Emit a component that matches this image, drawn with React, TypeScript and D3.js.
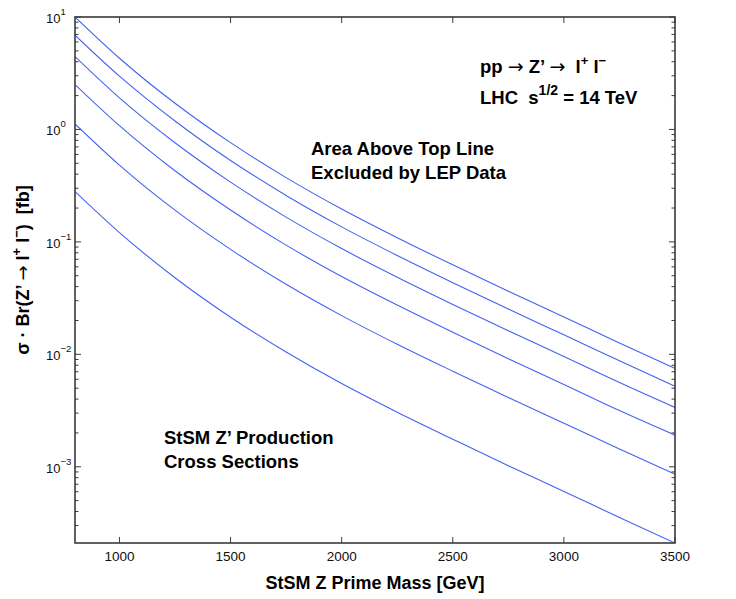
import React from "react";
import * as d3 from "d3";

const masses = [800, 1000, 1250, 1500, 1750, 2000, 2250, 2500, 2750, 3000, 3250, 3500];

// sigma * Br(Z' -> l+ l-) [fb], top line to bottom line
const curve1 = [10.0, 4.3, 1.71, 0.763, 0.373, 0.196, 0.109, 0.0625, 0.0364, 0.0215, 0.0126, 0.0075];
const curve2 = [6.9, 2.98, 1.19, 0.53, 0.259, 0.136, 0.0757, 0.0434, 0.0253, 0.0149, 0.00875, 0.0052];
const curve3 = [4.45, 1.91, 0.761, 0.34, 0.166, 0.0872, 0.0485, 0.0278, 0.0162, 0.00957, 0.00561, 0.00337];
const curve4 = [2.51, 1.08, 0.429, 0.192, 0.0936, 0.0492, 0.0274, 0.0157, 0.00914, 0.0054, 0.00316, 0.00191];
const curve5 = [1.12, 0.482, 0.1915, 0.0858, 0.042, 0.0221, 0.0123, 0.00708, 0.00413, 0.00244, 0.00144, 0.00086];
const curve6 = [0.28, 0.121, 0.048, 0.0214, 0.0105, 0.0055, 0.00306, 0.00176, 0.00102, 0.000604, 0.000354, 0.00021];

const curves = [curve1, curve2, curve3, curve4, curve5, curve6];

const xTicks = [1000, 1500, 2000, 2500, 3000, 3500];
const yDecades = [1, 0, -1, -2, -3]; // exponents of the labelled decades

const W = 736;
const H = 599;
const margin = { top: 17, right: 61, bottom: 56, left: 75 };

const font = "'Liberation Sans', Arial, Helvetica, sans-serif";
const arrowFont = "'DejaVu Sans', sans-serif";
const lineColor = "#4262f2";
const axisColor = "#3a3a3a";

// arrow glyph drawn in a wider, lighter face like the original symbol font
const Arrow = ({ size = 19 }: { size?: number }) => (
  <tspan fontFamily={arrowFont} fontWeight="normal" fontSize={size}>
    {"\u2192"}
  </tspan>
);

export default function App() {
  const innerW = W - margin.left - margin.right;
  const innerH = H - margin.top - margin.bottom;

  const x = d3.scaleLinear().domain([800, 3500]).range([0, innerW]);
  const y = d3.scaleLog().domain([2.1e-4, 10]).range([innerH, 0]);

  const line = d3
    .line<number>()
    .x((_, i) => x(masses[i]))
    .y((d) => y(d))
    .curve(d3.curveMonotoneX);

  // minor log ticks 2..9 inside the domain
  const [yMin, yMax] = y.domain();
  const minorTicks: number[] = [];
  for (let e = -4; e <= 1; e++) {
    for (let k = 1; k <= 9; k++) {
      const v = k * Math.pow(10, e);
      if (v >= yMin && v <= yMax) minorTicks.push(v);
    }
  }

  return (
    <svg
      width={W}
      height={H}
      style={{ position: "absolute", left: 0, top: 0, background: "#fff" }}
      fontFamily={font}
    >
      <defs>
        <clipPath id="plot-clip">
          <rect x={0} y={0} width={innerW} height={innerH} />
        </clipPath>
      </defs>
      <g transform={`translate(${margin.left},${margin.top})`}>
        {/* curves */}
        <g clipPath="url(#plot-clip)">
          {curves.map((c, i) => (
            <path key={i} d={line(c) || ""} fill="none" stroke={lineColor} strokeWidth={1.1} />
          ))}
        </g>

        {/* ticks, inward on all sides */}
        {xTicks.map((t) => (
          <g key={t}>
            <line x1={x(t)} x2={x(t)} y1={innerH} y2={innerH - 6} stroke={axisColor} strokeWidth={1} />
            <line x1={x(t)} x2={x(t)} y1={0} y2={6} stroke={axisColor} strokeWidth={1} />
            <text x={x(t)} y={innerH + 18} textAnchor="middle" fontSize={13.5} fill="#111">
              {t}
            </text>
          </g>
        ))}
        {minorTicks.map((v, i) => {
          const major = Math.abs(Math.log10(v) - Math.round(Math.log10(v))) < 1e-9;
          const len = major ? 6 : 3.5;
          return (
            <g key={i}>
              <line x1={0} x2={len} y1={y(v)} y2={y(v)} stroke={axisColor} strokeWidth={1} />
              <line x1={innerW} x2={innerW - len} y1={y(v)} y2={y(v)} stroke={axisColor} strokeWidth={1} />
            </g>
          );
        })}
        {yDecades.map((e) => (
          <text key={e} x={46 - margin.left} y={y(Math.pow(10, e)) + 6} fontSize={13} fill="#111">
            10
            <tspan dy={-8} fontSize={9.5}>
              {e < 0 ? `\u2212${-e}` : `${e}`}
            </tspan>
          </text>
        ))}

        {/* box */}
        <rect x={0} y={0} width={innerW} height={innerH} fill="none" stroke={axisColor} strokeWidth={1.6} />
      </g>

      {/* annotations */}
      <g fontWeight="bold" fontSize={18.5} fill="#000">
        <text x={480} y={73} xmlSpace="preserve">
          {"pp "}
          <Arrow />
          {" Z\u2019 "}
          <Arrow />
          {"  l"}
          <tspan dy={-8} fontSize={13}>+</tspan>
          <tspan dy={8}>{" l"}</tspan>
          <tspan dy={-8} fontSize={13}>{"\u2212"}</tspan>
        </text>
        <text x={480} y={104} xmlSpace="preserve">
          {"LHC  s"}
          <tspan dy={-9} fontSize={14}>1/2</tspan>
          <tspan dy={9}>{" = 14 TeV"}</tspan>
        </text>
        <text x={311} y={155}>Area Above Top Line</text>
        <text x={311} y={179}>Excluded by LEP Data</text>
        <text x={164} y={444}>{"StSM Z\u2019 Production"}</text>
        <text x={164} y={468}>Cross Sections</text>

        {/* axis titles */}
        <text x={margin.left + innerW / 2} y={589} textAnchor="middle" fontSize={18}>
          StSM Z Prime Mass [GeV]
        </text>
        <text
          transform="translate(29,270) rotate(-90)"
          textAnchor="middle"
          fontSize={18}
          xmlSpace="preserve"
        >
          {"\u03c3 \u00b7 Br(Z\u2019 "}
          <Arrow size={18} />
          {" l"}
          <tspan dy={-8} fontSize={13}>+</tspan>
          <tspan dy={8}>{" l"}</tspan>
          <tspan dy={-8} fontSize={13}>{"\u2212"}</tspan>
          <tspan dy={8}>{")  [fb]"}</tspan>
        </text>
      </g>
    </svg>
  );
}
